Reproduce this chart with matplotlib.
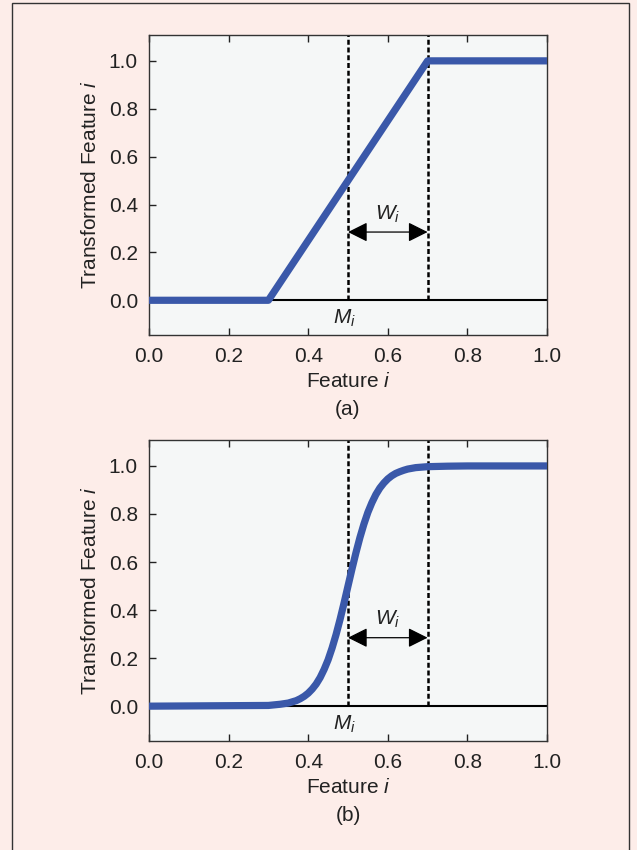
import matplotlib.pyplot as plt
from matplotlib.patches import Rectangle

plt.rcParams['font.family'] = ['Liberation Sans', 'DejaVu Sans']
plt.rcParams['mathtext.fontset'] = 'custom'
plt.rcParams['mathtext.rm'] = 'Liberation Sans'
plt.rcParams['mathtext.it'] = 'Liberation Sans:italic'

# panel (a): piecewise linear transform
lin_x = [0.0, 0.3, 0.7, 1.0]
lin_y = [0.0, 0.0, 1.0, 1.0]

# panel (b): sigmoid transform
sig_x = [0.0, 0.30, 0.33, 0.35, 0.37, 0.38, 0.39, 0.40, 0.41, 0.42, 0.43,
         0.44, 0.45, 0.46, 0.47, 0.48, 0.49, 0.50, 0.51, 0.52, 0.53, 0.54,
         0.55, 0.56, 0.57, 0.58, 0.59, 0.60, 0.61, 0.62, 0.63, 0.64, 0.65,
         0.67, 0.70, 0.75, 0.80, 1.0]
sig_y = [0.0, 0.003, 0.008, 0.013, 0.023, 0.031, 0.041, 0.054, 0.071, 0.092,
         0.119, 0.153, 0.193, 0.242, 0.298, 0.361, 0.429, 0.50, 0.571, 0.639,
         0.702, 0.758, 0.807, 0.847, 0.881, 0.908, 0.929, 0.946, 0.959, 0.969,
         0.976, 0.982, 0.987, 0.993, 0.997, 0.999, 1.0, 1.0]

m_pos = 0.5
w_pos = 0.7
arrow_y = 0.285
ticks = [0.0, 0.2, 0.4, 0.6, 0.8, 1.0]
tick_labels = ["0.0", "0.2", "0.4", "0.6", "0.8", "1.0"]
panel_names = ["(a)", "(b)"]

blue = "#3a58a9"
fig_bg = "#fdede9"
ax_bg = "#f5f7f7"
txt = "#222222"

fig = plt.figure(figsize=(6.37, 8.5), dpi=100, facecolor=fig_bg)
fig.patches.append(Rectangle((12 / 637, -0.1), 617 / 637, 1.1 - 3 / 850,
                             transform=fig.transFigure, fill=False,
                             edgecolor="#333333", lw=1.0))

axes_pos = [[149 / 637, 1 - 335 / 850, 398 / 637, 300 / 850],
            [149 / 637, 1 - 741 / 850, 398 / 637, 301 / 850]]
curves = [(lin_x, lin_y), (sig_x, sig_y)]

for pos, (cx, cy), name in zip(axes_pos, curves, panel_names):
    ax = fig.add_axes(pos)
    ax.set_facecolor(ax_bg)
    ax.set_xlim(0, 1)
    ax.set_ylim(-0.145, 1.108)
    top = 1.108

    ax.plot([0, 1], [0, 0], color="black", lw=1.5, zorder=2)
    ax.vlines([m_pos, w_pos], 0, top, colors="black", lw=1.8,
              linestyles=(0, (2.0, 1.1)), zorder=2)
    ax.plot(cx, cy, color=blue, lw=5.2, solid_capstyle="butt",
            solid_joinstyle="round", zorder=3)

    ax.annotate("", xy=(w_pos, arrow_y), xytext=(m_pos, arrow_y),
                arrowprops=dict(arrowstyle="<|-|>", color="black", lw=0.9,
                                mutation_scale=30, shrinkA=0, shrinkB=0),
                zorder=4)
    ax.text(0.6, 0.36, "$W_i$", fontsize=15, ha="center", va="center",
            color=txt)
    ax.text(0.49, -0.075, "$M_i$", fontsize=15, ha="center", va="center",
            color=txt)

    ax.set_xticks(ticks)
    ax.set_xticklabels(tick_labels)
    ax.set_yticks(ticks)
    ax.set_yticklabels(tick_labels)
    ax.tick_params(axis="both", direction="in", length=5, width=1,
                   labelsize=15, colors=txt, pad=8)
    ax.tick_params(axis="x", top=True, pad=9)
    for sp in ax.spines.values():
        sp.set_color("#333333")
        sp.set_linewidth(1.0)

    ax.set_xlabel("Feature $i$", fontsize=15, color=txt, labelpad=4)
    ax.set_ylabel("Transformed Feature $i$", fontsize=15, color=txt,
                  labelpad=6)
    ax.text(0.5, -0.247, name, transform=ax.transAxes, fontsize=15,
            ha="center", va="center", color=txt)

fig.savefig("out.png", dpi=100, facecolor=fig_bg)
